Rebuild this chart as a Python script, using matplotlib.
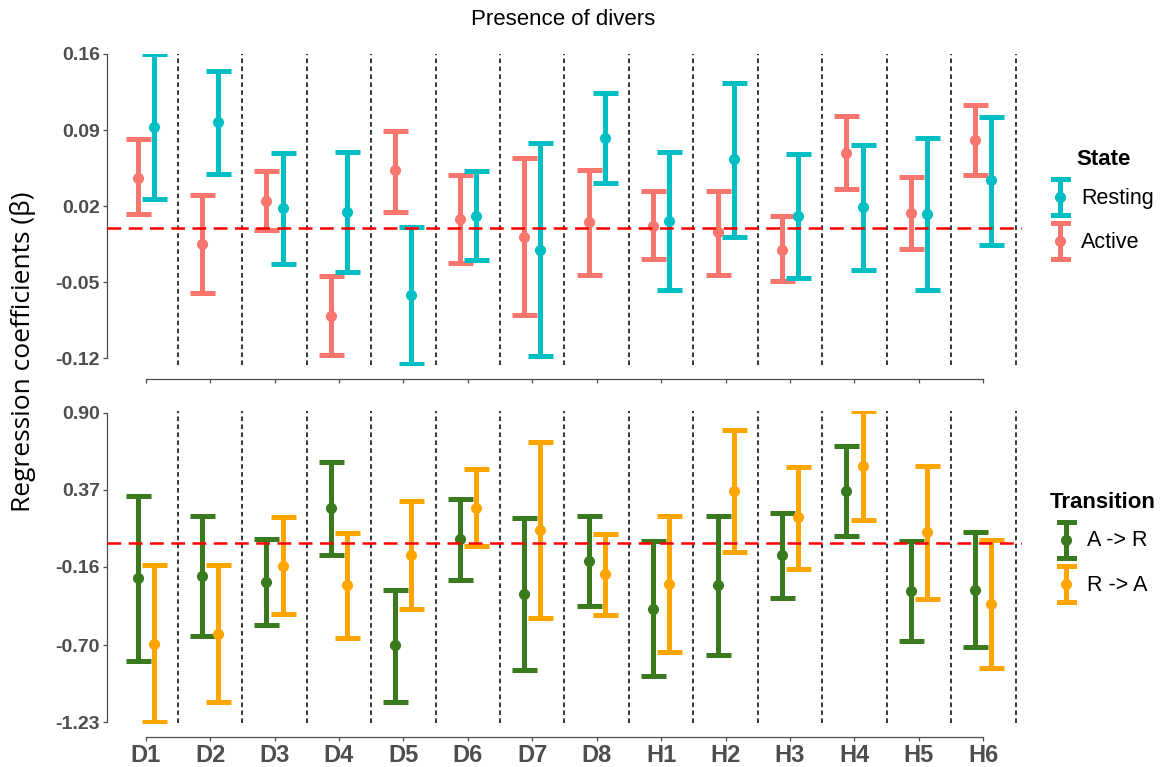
import numpy as np
import matplotlib
matplotlib.use('Agg')
import matplotlib.pyplot as plt
from matplotlib.lines import Line2D
from matplotlib.legend_handler import HandlerBase

# sites along the x axis
sites = ['D1', 'D2', 'D3', 'D4', 'D5', 'D6', 'D7', 'D8',
         'H1', 'H2', 'H3', 'H4', 'H5', 'H6']

# --- top panel: state coefficients (estimate, lower, upper)
active_est = [0.046, -0.015, 0.025, -0.081, 0.053, 0.008, -0.008, 0.005,
              0.002, -0.004, -0.020, 0.069, 0.014, 0.081]
active_lo = [0.013, -0.060, -0.002, -0.117, 0.015, -0.032, -0.080, -0.043,
             -0.029, -0.043, -0.049, 0.036, -0.019, 0.049]
active_hi = [0.082, 0.030, 0.052, -0.044, 0.089, 0.049, 0.064, 0.053,
             0.034, 0.034, 0.011, 0.103, 0.047, 0.113]

resting_est = [0.093, 0.097, 0.018, 0.015, -0.062, 0.011, -0.020, 0.083,
               0.006, 0.063, 0.011, 0.019, 0.013, 0.044]
resting_lo = [0.027, 0.050, -0.033, -0.041, -0.125, -0.030, -0.118, 0.041,
              -0.057, -0.008, -0.046, -0.039, -0.057, -0.016]
resting_hi = [0.160, 0.144, 0.069, 0.070, 0.001, 0.052, 0.078, 0.124,
              0.070, 0.133, 0.068, 0.076, 0.083, 0.102]

# --- bottom panel: transition coefficients
ar_est = [-0.241, -0.225, -0.266, 0.241, -0.702, 0.028, -0.349, -0.122,
          -0.452, -0.287, -0.080, 0.360, -0.328, -0.319]
ar_lo = [-0.806, -0.636, -0.560, -0.078, -1.088, -0.248, -0.874, -0.429,
         -0.913, -0.769, -0.374, 0.048, -0.668, -0.711]
ar_hi = [0.324, 0.186, 0.030, 0.560, -0.317, 0.303, 0.177, 0.186,
         0.016, 0.190, 0.211, 0.668, 0.014, 0.078]

ra_est = [-0.691, -0.622, -0.156, -0.287, -0.080, 0.246, 0.094, -0.213,
          -0.282, 0.363, 0.179, 0.535, 0.078, -0.415]
ra_lo = [-1.230, -1.092, -0.484, -0.647, -0.454, -0.018, -0.512, -0.493,
         -0.750, -0.060, -0.179, 0.158, -0.379, -0.854]
ra_hi = [-0.145, -0.151, 0.179, 0.071, 0.291, 0.510, 0.698, 0.067,
         0.186, 0.780, 0.526, 0.909, 0.535, 0.023]

top_ticks = [0.16, 0.09, 0.02, -0.05, -0.12]
top_ticklabels = ['0.16', '0.09', '0.02', '-0.05', '-0.12']
bot_ticks = [0.90, 0.37, -0.16, -0.70, -1.23]
bot_ticklabels = ['0.90', '0.37', '-0.16', '-0.70', '-1.23']

c_rest = '#00BFC4'
c_act = '#F8766D'
c_ar = '#3A7A1E'
c_ra = '#FFA500'
axis_grey = '#4D4D4D'


class HandlerVErr(HandlerBase):
    # ggplot style vertical errorbar key
    def create_artists(self, legend, orig_handle, xdescent, ydescent,
                       width, height, fontsize, trans):
        c = orig_handle.get_color()
        x0 = -xdescent
        x1 = x0 + width
        cx = (x0 + x1) / 2
        y0 = -ydescent
        y1 = y0 + height
        lw = 3.6
        arts = [Line2D([cx, cx], [y0, y1], color=c, lw=lw),
                Line2D([x0, x1], [y0, y0], color=c, lw=lw),
                Line2D([x0, x1], [y1, y1], color=c, lw=lw),
                Line2D([cx], [(y0 + y1) / 2], marker='o', ms=7, color=c, ls='none')]
        for a in arts:
            a.set_transform(trans)
        return arts


def draw_err(ax, x, est, lo, hi, color):
    est = np.array(est)
    lo = np.array(lo)
    hi = np.array(hi)
    ax.errorbar(x, est, yerr=[est - lo, hi - est], fmt='o', color=color,
                ms=7, elinewidth=3.6, capsize=9, capthick=3.6, zorder=3)


def style_axis(ax, ticks, ticklabels, ylim, show_x):
    ax.set_xlim(0.4, 14.6)
    ax.set_ylim(*ylim)
    for k in np.arange(1.5, 15, 1.0):
        ax.axvline(k, color='black', lw=1.1, ls=(0, (3, 2.2)), zorder=1)
    ax.axhline(0, color='red', lw=1.8, ls=(0, (5.5, 3)), zorder=5)
    for s in ['top', 'right']:
        ax.spines[s].set_visible(False)
    ax.spines['bottom'].set_position(('outward', 10))
    ax.spines['bottom'].set_bounds(1, 14)
    ax.spines['left'].set_bounds(min(ticks), max(ticks))
    for s in ['bottom', 'left']:
        ax.spines[s].set_color(axis_grey)
        ax.spines[s].set_linewidth(0.9)
    ax.set_yticks(ticks)
    ax.set_yticklabels(ticklabels, fontfamily='Liberation Sans',
                       fontweight='bold', fontsize=14, color=axis_grey)
    ax.set_xticks(np.arange(1, 15))
    if show_x:
        ax.set_xticklabels(sites, fontfamily='Liberation Sans',
                           fontweight='bold', fontsize=17, color=axis_grey)
    else:
        ax.set_xticklabels([])
    ax.tick_params(axis='both', length=3, width=0.9, color=axis_grey, pad=2)


fig = plt.figure(figsize=(11.68, 7.67), dpi=100)
ax1 = fig.add_axes([0.0916, 0.5241, 0.7834, 0.4055])
ax2 = fig.add_axes([0.0916, 0.0574, 0.7834, 0.4067])

x = np.arange(1, len(sites) + 1)
dodge = 0.125

draw_err(ax1, x - dodge, active_est, active_lo, active_hi, c_act)
draw_err(ax1, x + dodge, resting_est, resting_lo, resting_hi, c_rest)
style_axis(ax1, top_ticks, top_ticklabels, (-0.1262, 0.1600), False)

draw_err(ax2, x - dodge, ar_est, ar_lo, ar_hi, c_ar)
draw_err(ax2, x + dodge, ra_est, ra_lo, ra_hi, c_ra)
style_axis(ax2, bot_ticks, bot_ticklabels, (-1.235, 0.911), True)

fig.text(0.482, 0.974, 'Presence of divers', ha='center', va='center',
         fontfamily='Liberation Sans', fontsize=16)
fig.text(0.0197, 0.542, 'Regression coefficients (\u03b2)', ha='center',
         va='center', rotation=90, fontfamily='Open Sans', fontsize=19)

leg_kw = dict(loc='upper center', frameon=False, handler_map={Line2D: HandlerVErr()},
              handlelength=0.7, handleheight=2.21, labelspacing=0.39,
              handletextpad=0.6, borderpad=0.2, alignment='center',
              prop=dict(family='Liberation Sans', size=15.5),
              title_fontproperties=dict(family='Liberation Sans', weight='bold', size=16))

fig.legend([Line2D([], [], color=c_rest), Line2D([], [], color=c_act)],
           ['Resting', 'Active'], title='State',
           bbox_to_anchor=(0.9445, 0.825), **leg_kw)
fig.legend([Line2D([], [], color=c_ar), Line2D([], [], color=c_ra)],
           ['A -> R', 'R -> A'], title='Transition',
           bbox_to_anchor=(0.9445, 0.378), **leg_kw)

fig.savefig('out.png', dpi=100)
